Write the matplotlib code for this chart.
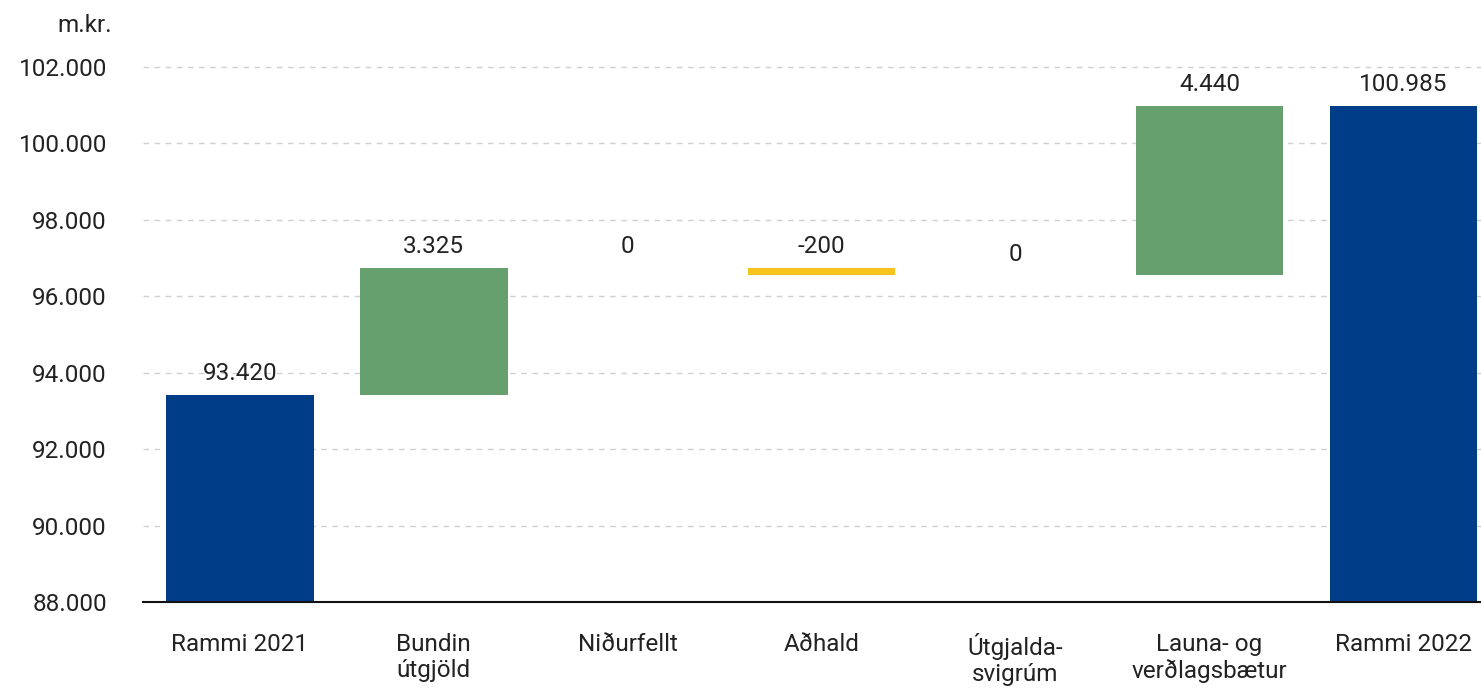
import matplotlib.pyplot as plt
import numpy as np

# data
categories = ["Rammi 2021", "Bundin\nútgjöld", "Niðurfellt", "Aðhald",
              "Útgjalda-\nsvigrúm", "Launa- og\nverðlagsbætur", "Rammi 2022"]
changes = [93420, 3325, 0, -200, 0, 4440, 100985]
labels = ["93.420", "3.325", "0", "-200", "0", "4.440", "100.985"]
yticks = [88000, 90000, 92000, 94000, 96000, 98000, 100000, 102000]

navy = "#003d89"
green = "#67a06f"
yellow = "#f7c31c"

plt.rcParams['font.family'] = ['Roboto', 'DejaVu Sans']

# compute waterfall bottoms / heights
bottoms = []
heights = []
colors = []
running = 0
for i, v in enumerate(changes):
    if i == 0 or i == len(changes) - 1:
        bottoms.append(0)
        heights.append(v)
        colors.append(navy)
        running = v
    else:
        if v >= 0:
            bottoms.append(running)
            heights.append(v)
            colors.append(green)
        else:
            bottoms.append(running + v)
            heights.append(-v)
            colors.append(yellow)
        running += v

fig = plt.figure(figsize=(14.81, 6.9), dpi=100)
ax = fig.add_axes([143 / 1481, 1 - 602 / 690, (1481 - 143) / 1481, (602 - 60) / 690])

x = np.arange(len(categories))
ax.bar(x, heights, bottom=bottoms, width=0.76, color=colors, zorder=3)

for i in range(len(categories)):
    top = bottoms[i] + heights[i]
    ax.text(x[i], top + 250, labels[i], ha="center", va="bottom",
            fontsize=17.5, color="#222222", zorder=4)

ax.set_ylim(88000, 102000 + 14000 * 7 / 535)
ax.set_xlim(-0.5, 6.4)
ax.set_yticks(yticks)
ax.set_yticklabels([f"{t:,}".replace(",", ".") for t in yticks], fontsize=17.5, color="#222222")
ax.set_xticks(x)
ax.set_xticklabels(categories, fontsize=17.5, color="#222222", linespacing=1.2)
ax.tick_params(axis="both", length=0)
ax.tick_params(axis="x", pad=22)
ax.tick_params(axis="y", pad=26)

ax.grid(axis="y", linestyle=(0, (4, 4)), color="#d0d0d0", linewidth=1, zorder=0)
for s in ["top", "right", "left"]:
    ax.spines[s].set_visible(False)
ax.spines["bottom"].set_color("#111111")
ax.spines["bottom"].set_linewidth(1.5)
ax.spines["bottom"].set_zorder(5)

fig.text(85 / 1481, 1 - 25 / 690, "m.kr.", ha="center", va="center", fontsize=17.5, color="#222222")

fig.savefig("out.png", dpi=100)
